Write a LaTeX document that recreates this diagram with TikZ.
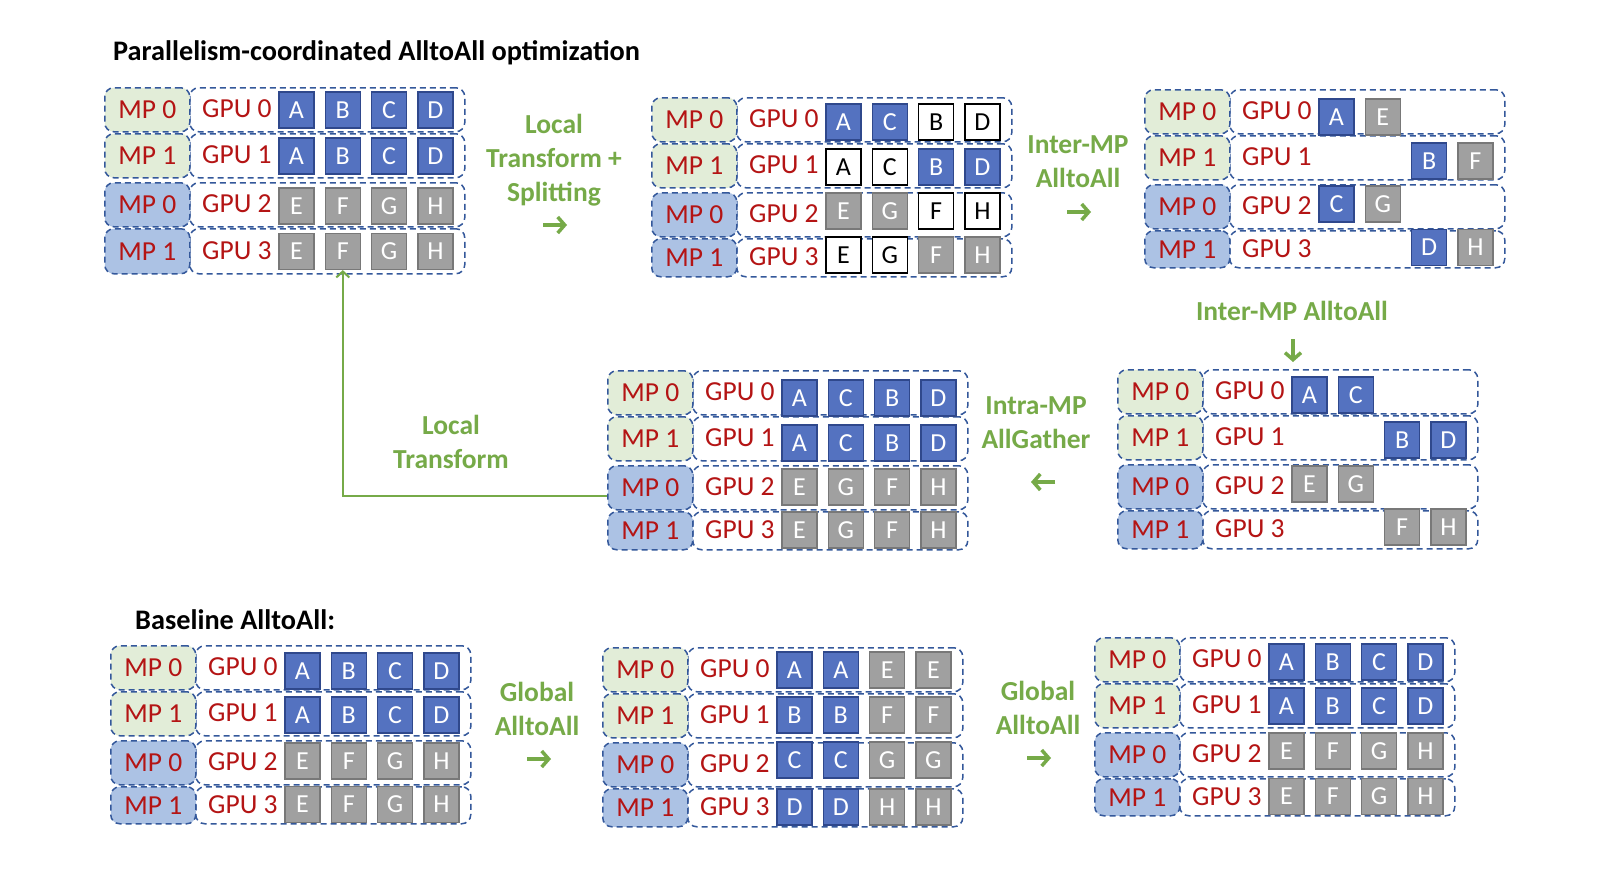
\documentclass[tikz,border=0pt]{standalone}
\usepackage{fontspec}
\setmainfont{Carlito}
\usetikzlibrary{arrows.meta}
\definecolor{dashblue}{RGB}{52,88,155}
\definecolor{mpgreen}{RGB}{226,237,216}
\definecolor{mpblue}{RGB}{172,194,228}
\definecolor{mpred}{RGB}{180,20,20}
\definecolor{blockblue}{RGB}{84,114,192}
\definecolor{blockblueb}{RGB}{47,72,140}
\definecolor{blockgray}{RGB}{160,160,160}
\definecolor{blockgrayb}{RGB}{120,120,120}
\definecolor{lgreen}{RGB}{118,170,72}
\tikzset{
  dashln/.style={draw=dashblue, dash pattern=on 6pt off 4pt, line width=1.5pt, rounded corners=9pt},
  mpbox/.style={dashln, minimum width=85pt, inner sep=0pt, text=mpred, font=\fontsize{27.5}{30}\selectfont},
  gpubox/.style={dashln, fill=white, minimum width=275pt, inner sep=0pt},
  gputxt/.style={anchor=west, inner sep=0pt, text=mpred, font=\fontsize{27.5}{30}\selectfont},
  blk/.style={minimum width=35pt, minimum height=36pt, inner sep=0pt, line width=1.2pt, font=\fontsize{26}{26}\selectfont},
  blkB/.style={blk, fill=blockblue, draw=blockblueb, text=white},
  blkG/.style={blk, fill=blockgray, draw=blockgrayb, text=white},
  blkW/.style={blk, fill=white, draw=black, text=black},
  glabel/.style={text=lgreen, font=\bfseries\fontsize{27.5}{34}\selectfont, align=center, inner sep=0pt},
  garrow/.style={draw=lgreen, line width=3.5pt, -{Straight Barb[length=7pt,width=16pt]}},
  conn/.style={draw=lgreen, line width=2pt, -{Straight Barb[length=6pt,width=13pt]}},
  ttl/.style={font=\bfseries\fontsize{28.3}{30}\selectfont, anchor=west, inner sep=0pt},
}
\newcommand\pnl[4]{%
  \def\pn{#1}\def\px{#2}\def\py{#3}%
  \pgfmathsetmacro\cyA{#3+22}%
  \pgfmathsetmacro\cyB{#3+68}%
  \pgfmathsetmacro\cyC{#3+117}%
  \pgfmathsetmacro\cyD{#3+141+#4/2}%
  \foreach \r/\off/\h/\fc/\m in {0/0/44/mpgreen/0, 1/46/44/mpgreen/1, 2/95/44/mpblue/0, 3/141/#4/mpblue/1}{
    \node[gpubox, minimum height=\h pt, anchor=north west] (#1-g\r) at (#2+85,#3+\off) {};
    \node[mpbox, fill=\fc, minimum height=\h pt, anchor=north west] (#1-m\r) at (#2,#3+\off) {MP \m};
    \node[gputxt] (#1-t\r) at (#2+98, #3+\off+\h/2) {GPU \r};
  }%
}
\newcommand\brow[3]{%
  \ifcase#1 \let\cy\cyA\or\let\cy\cyB\or\let\cy\cyC\or\let\cy\cyD\fi
  \foreach \c/\s/\l in {#3}{
    \node[\s] (\pn-b#1\c) at ({\px+192.5+46.3*\c}, {\cy#2}) {\l};
  }%
}
\begin{document}
\begin{tikzpicture}[x=1pt,y=-1pt]
\useasboundingbox (0,0) rectangle (1597,873);
\fill[white] (0,0) rectangle (1597,873);

% titles
\node[ttl] (t1) at (113,53) {Parallelism-coordinated AlltoAll optimization};
\node[ttl] (t2) at (135,620) {Baseline AlltoAll:};

% panel 1
\pnl{p1}{104}{87}{45}
\brow{0}{+1}{0/blkB/A,1/blkB/B,2/blkB/C,3/blkB/D}
\brow{1}{+1}{0/blkB/A,1/blkB/B,2/blkB/C,3/blkB/D}
\brow{2}{+2}{0/blkG/E,1/blkG/F,2/blkG/G,3/blkG/H}
\brow{3}{+1}{0/blkG/E,1/blkG/F,2/blkG/G,3/blkG/H}

% panel 2
\pnl{p2}{651}{97}{38}
\brow{0}{+3}{0/blkB/A,1/blkB/C,2/blkW/B,3/blkW/D}
\brow{1}{+2}{0/blkW/A,1/blkW/C,2/blkB/B,3/blkB/D}
\brow{2}{-3}{0/blkG/E,1/blkG/G,2/blkW/F,3/blkW/H}
\brow{3}{-2}{0/blkW/E,1/blkW/G,2/blkG/F,3/blkG/H}

% panel 3
\pnl{p3}{1144}{89}{37}
\brow{0}{+6}{0/blkB/A,1/blkG/E}
\brow{1}{+4}{2/blkB/B,3/blkG/F}
\brow{2}{-2}{0/blkB/C,1/blkG/G}
\brow{3}{-1}{2/blkB/D,3/blkG/H}

% panel 4
\pnl{p4}{1117}{369}{38}
\brow{0}{+4}{0/blkB/A,1/blkB/C}
\brow{1}{+3}{2/blkB/B,3/blkB/D}
\brow{2}{-2}{0/blkG/E,1/blkG/G}
\brow{3}{-2}{2/blkG/F,3/blkG/H}

% panel 5
\pnl{p5}{607}{370}{38}
\brow{0}{+6}{0/blkB/A,1/blkB/C,2/blkB/B,3/blkB/D}
\brow{1}{+5}{0/blkB/A,1/blkB/C,2/blkB/B,3/blkB/D}
\brow{2}{+0}{0/blkG/E,1/blkG/G,2/blkG/F,3/blkG/H}
\brow{3}{+0}{0/blkG/E,1/blkG/G,2/blkG/F,3/blkG/H}

% panel 6
\pnl{p6}{110}{645}{37}
\brow{0}{+4}{0/blkB/A,1/blkB/B,2/blkB/C,3/blkB/D}
\brow{1}{+2}{0/blkB/A,1/blkB/B,2/blkB/C,3/blkB/D}
\brow{2}{-1}{0/blkG/E,1/blkG/F,2/blkG/G,3/blkG/H}
\brow{3}{+0}{0/blkG/E,1/blkG/F,2/blkG/G,3/blkG/H}

% panel 7
\pnl{p7}{602}{647}{38}
\brow{0}{+1}{0/blkB/A,1/blkB/A,2/blkG/E,3/blkG/E}
\brow{1}{+0}{0/blkB/B,1/blkB/B,2/blkG/F,3/blkG/F}
\brow{2}{-4}{0/blkB/C,1/blkB/C,2/blkG/G,3/blkG/G}
\brow{3}{+0}{0/blkB/D,1/blkB/D,2/blkG/H,3/blkG/H}

% panel 8
\pnl{p8}{1094}{637}{37}
\brow{0}{+3}{0/blkB/A,1/blkB/B,2/blkB/C,3/blkB/D}
\brow{1}{+1}{0/blkB/A,1/blkB/B,2/blkB/C,3/blkB/D}
\brow{2}{-3}{0/blkG/E,1/blkG/F,2/blkG/G,3/blkG/H}
\brow{3}{+0}{0/blkG/E,1/blkG/F,2/blkG/G,3/blkG/H}

% labels and arrows
\node[glabel] (l1) at (554,160) {Local\\Transform +\\Splitting};
\coordinate (l1a) at (543,225); \coordinate (l1b) at (567,225);
\draw[garrow] (l1a) -- (l1b);

\node[glabel] (l2) at (1078,162) {Inter-MP\\AlltoAll};
\coordinate (l2a) at (1067,212); \coordinate (l2b) at (1091,212);
\draw[garrow] (l2a) -- (l2b);

\node[glabel] (l3) at (1292,311) {Inter-MP AlltoAll};
\coordinate (l3a) at (1293,339); \coordinate (l3b) at (1293,362);
\draw[garrow] (l3a) -- (l3b);

\node[glabel] (l4) at (1036,423) {Intra-MP\\AllGather};
\coordinate (l4a) at (1055,482); \coordinate (l4b) at (1031,482);
\draw[garrow] (l4a) -- (l4b);

\node[glabel] (l5) at (451,442) {Local\\Transform};

\node[glabel] (l6) at (537,709) {Global\\AlltoAll};
\coordinate (l6a) at (527,759); \coordinate (l6b) at (551,759);
\draw[garrow] (l6a) -- (l6b);

\node[glabel] (l7) at (1038,708) {Global\\AlltoAll};
\coordinate (l7a) at (1027,758); \coordinate (l7b) at (1051,758);
\draw[garrow] (l7a) -- (l7b);

% connector
\draw[conn] ([yshift=-8pt]p5-m2.west) -| (p1-b31.south);
\end{tikzpicture}
\end{document}
